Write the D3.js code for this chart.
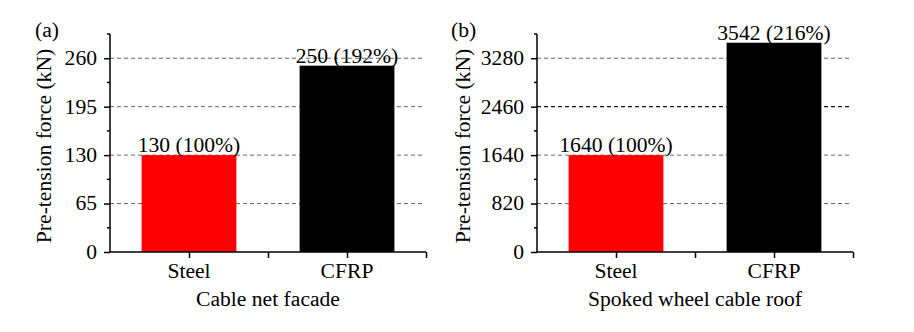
<!DOCTYPE html>
<html>
<head>
<meta charset="utf-8">
<script src="https://cdn.jsdelivr.net/npm/d3@7"></script>
<style>
  body { margin: 0; background: #fff; }
</style>
</head>
<body>
<div id="viz-container"></div>
<script>
var width = 914, height = 332;

// data
var materials = ["Steel", "CFRP"];
var facadeForce = [130, 250];
var roofForce = [1640, 3542];
var facadeTicks = [0, 65, 130, 195, 260];
var roofTicks = [0, 820, 1640, 2460, 3280];
var barColors = ["#ff0000", "#000000"];

var svg = d3.select("#viz-container")
            .append("svg")
            .attr("width", width)
            .attr("height", height);

function drawPanel(opts) {
    var x = d3.scaleLinear().domain([0.5, 2.5]).range([opts.left, opts.left + 316]);
    var y = d3.scaleLinear().domain([0, opts.yMax]).range([252, 34]);
    var g = svg.append("g");
    var step = opts.ticks[1] - opts.ticks[0];

    // dashed grid
    g.selectAll(".grid")
     .data(opts.ticks.slice(1))
     .enter().append("line")
     .attr("x1", x(0.5)).attr("x2", x(2.475))
     .attr("y1", function(d) { return y(d); })
     .attr("y2", function(d) { return y(d); })
     .attr("stroke", function(d) { return opts.darkGrid === d ? "#111" : "#555"; })
     .attr("stroke-width", function(d) { return opts.darkGrid === d ? 1.2 : 0.9; })
     .attr("stroke-dasharray", "4,3");

    // bars
    g.selectAll(".bar")
     .data(opts.values)
     .enter().append("rect")
     .attr("x", function(d, i) { return x(i + 1 - 0.3); })
     .attr("width", x(1.6) - x(1))
     .attr("y", function(d) { return y(d); })
     .attr("height", function(d) { return y(0) - y(d); })
     .attr("fill", function(d, i) { return barColors[i]; });

    // value labels
    g.selectAll(".val")
     .data(opts.values)
     .enter().append("text")
     .attr("x", function(d, i) { return x(i + 1); })
     .attr("y", function(d) { return y(d) - 3; })
     .attr("text-anchor", "middle")
     .text(function(d) { return d + " (" + Math.round(d / opts.values[0] * 100) + "%)"; });

    // y axis
    var yAxis = d3.axisLeft(y).tickValues(opts.ticks).tickSize(6).tickPadding(7)
                  .tickFormat(d3.format("d"));
    var ya = g.append("g").attr("transform", "translate(" + opts.left + ",0)").call(yAxis);
    var minor = d3.range(step / 2, opts.yMax + 0.01, step);
    ya.selectAll(".minor")
      .data(minor)
      .enter().append("line")
      .attr("x1", -3).attr("x2", 0)
      .attr("y1", function(d) { return y(d); })
      .attr("y2", function(d) { return y(d); })
      .attr("stroke", "#000").attr("stroke-width", 1.5);

    // x axis
    var xAxis = d3.axisBottom(x).tickValues([1, 1.5, 2, 2.5]).tickSize(6).tickFormat("");
    var xa = g.append("g").attr("transform", "translate(0,252)").call(xAxis);

    [ya, xa].forEach(function(a) {
        a.attr("font-family", null).attr("font-size", null);
        a.select(".domain").attr("stroke", "#000").attr("stroke-width", 1.5);
        a.selectAll(".tick line").attr("stroke", "#000").attr("stroke-width", 1.5);
    });
    ya.select(".domain").attr("d", "M0," + y(opts.yMax) + "V" + y(0));
    xa.select(".domain").attr("d", "M" + x(0.5) + ",0H" + x(2.5));

    // category labels
    g.selectAll(".cat")
     .data(materials)
     .enter().append("text")
     .attr("x", function(d, i) { return x(i + 1); })
     .attr("y", 278)
     .attr("text-anchor", "middle")
     .text(function(d) { return d; });

    g.append("text")
     .attr("x", x(1.5)).attr("y", 306)
     .attr("text-anchor", "middle")
     .text(opts.xTitle);

    g.append("text")
     .attr("transform", "translate(" + opts.yTitleX + ",146) rotate(-90)")
     .attr("text-anchor", "middle")
     .text("Pre-tension force (kN)");

    g.append("text")
     .attr("x", opts.tagX).attr("y", 37)
     .text(opts.tag);
}

drawPanel({ left: 110, values: facadeForce, ticks: facadeTicks, yMax: 292.5,
            xTitle: "Cable net facade", yTitleX: 51, tag: "(a)", tagX: 35 });
drawPanel({ left: 537, values: roofForce, ticks: roofTicks, yMax: 3690, darkGrid: 2460,
            xTitle: "Spoked wheel cable roof", yTitleX: 470, tag: "(b)", tagX: 451 });

// the original lettering runs a little wider than Liberation Serif
svg.selectAll("text")
   .style("font-family", "Liberation Serif")
   .style("font-size", "20px")
   .attr("fill", "#000")
   .each(function() {
       var len = this.getComputedTextLength();
       if (len > 0) {
           d3.select(this).attr("textLength", len * 1.08)
             .attr("lengthAdjust", "spacingAndGlyphs");
       }
   });
</script>
</body>
</html>
